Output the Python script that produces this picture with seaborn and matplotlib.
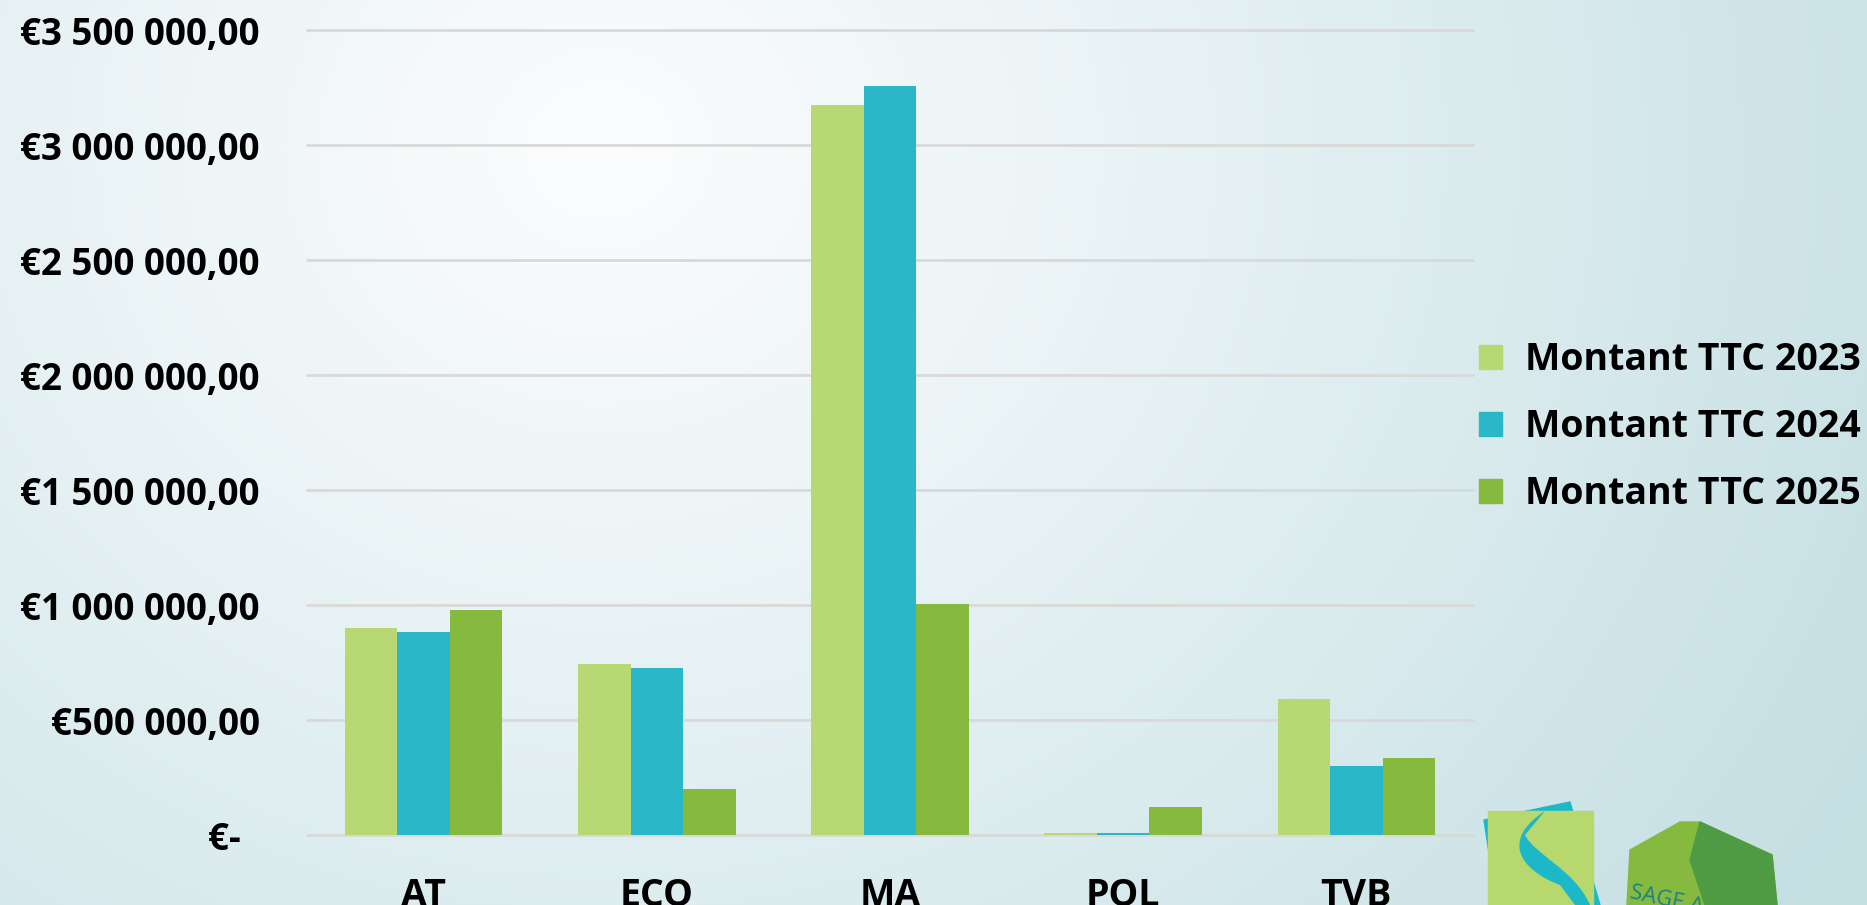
import numpy as np
import pandas as pd
import seaborn as sns
import matplotlib.pyplot as plt
from matplotlib.patches import Rectangle, Polygon, PathPatch
from matplotlib.path import Path

categories = ["AT", "ECO", "MA", "POL", "TVB"]
series = ["Montant TTC 2023", "Montant TTC 2024", "Montant TTC 2025"]
montant_2023 = [900000, 745000, 3175000, 10000, 590000]
montant_2024 = [881000, 726000, 3255000, 8000, 300000]
montant_2025 = [978000, 202000, 1005000, 120000, 336000]
y_ticks = [0, 500000, 1000000, 1500000, 2000000, 2500000, 3000000, 3500000]
y_labels = ["€-  ", "€500 000,00", "€1 000 000,00", "€1 500 000,00",
            "€2 000 000,00", "€2 500 000,00", "€3 000 000,00", "€3 500 000,00"]
colors = ["#b8d873", "#2ab7c7", "#86ba3f"]

df = pd.DataFrame({
    "cat": categories * 3,
    "serie": [s for s in series for _ in categories],
    "val": montant_2023 + montant_2024 + montant_2025,
})

sns.set_style("white")
plt.rcParams["font.family"] = ["Open Sans", "DejaVu Sans"]
plt.rcParams["text.color"] = "black"
plt.rcParams["xtick.color"] = "black"
plt.rcParams["ytick.color"] = "black"

W, H = 1867, 905
fig = plt.figure(figsize=(W / 100, H / 100), dpi=100)

# background gradient
bg = fig.add_axes([0, 0, 1, 1], zorder=-10)
yy, xx = np.mgrid[0:H, 0:W]
d = np.sqrt(((xx - 600) / 1.0) ** 2 + ((yy - 150) / 0.9) ** 2)
t = np.clip(d / 1450, 0, 1) ** 1.1
c0 = np.array([0.985, 0.99, 0.995])
c1 = np.array([0.77, 0.875, 0.89])
img = c0[None, None, :] * (1 - t[..., None]) + c1[None, None, :] * t[..., None]
bg.imshow(img, aspect="auto", extent=[0, W, H, 0])
bg.set_xlim(0, W)
bg.set_ylim(H, 0)
bg.axis("off")

# decorative logos bottom right
bg.add_patch(Polygon([[1484, 820], [1570, 802], [1600, 905], [1497, 905]],
                     closed=True, color="#1cb8c8", zorder=1))
bg.add_patch(Rectangle((1488, 811), 105, 94, color="#b6d86d", zorder=2))
s_path = Path([(1545, 811), (1500, 840), (1520, 870), (1560, 885), (1575, 905),
               (1590, 905), (1575, 870), (1535, 855), (1525, 835), (1565, 811)],
              [Path.MOVETO, Path.CURVE4, Path.CURVE4, Path.CURVE4, Path.LINETO,
               Path.LINETO, Path.CURVE4, Path.CURVE4, Path.CURVE4, Path.CLOSEPOLY])
bg.add_patch(PathPatch(s_path, facecolor="#1cb8c8", edgecolor="none", zorder=3))
bg.add_patch(Polygon([[1630, 850], [1680, 822], [1700, 822], [1772, 855], [1777, 905], [1627, 905]],
                     closed=True, color="#86ba3f", zorder=1))
bg.add_patch(Polygon([[1700, 822], [1772, 855], [1777, 905], [1705, 905], [1690, 860]],
                     closed=True, color="#4f9b43", zorder=2))
bg.text(1628, 900, "SAGE A", color="#1d7f8c", fontsize=16, rotation=-12,
        ha="left", va="center", zorder=4)

ax = fig.add_axes([307 / W, 1 - 835 / H, (1473 - 307) / W, (835 - 30) / H])
ax.set_facecolor("none")
sns.barplot(data=df, x="cat", y="val", hue="serie", palette=colors,
            saturation=1, width=0.675, linewidth=0, ax=ax, zorder=3)

ax.set_ylim(0, 3500000)
ax.set_xlim(-0.5, 4.5)
ax.set_yticks(y_ticks)
ax.set_yticklabels(y_labels)
ax.yaxis.grid(True, color="#d9d9d9", linewidth=2, zorder=0)
for gl in ax.get_ygridlines():
    gl.set_clip_on(False)
ax.set_axisbelow(True)
for sp in ax.spines.values():
    sp.set_visible(False)
ax.tick_params(axis="both", length=0)
ax.tick_params(axis="y", pad=34, labelsize=26.5)
ax.tick_params(axis="x", pad=30, labelsize=27)
for lab in ax.get_yticklabels() + ax.get_xticklabels():
    lab.set_fontweight("bold")
ax.set_xlabel("")
ax.set_ylabel("")

ax.get_legend().remove()
handles = [Rectangle((0, 0), 1, 1, color=c) for c in colors]
fig.legend(handles, series, loc="center left", bbox_to_anchor=(1445 / W, 1 - 427 / H),
           frameon=False, prop={"size": 27, "weight": "bold"},
           handlelength=0.61, handleheight=0.61, handletextpad=0.61, labelspacing=0.78)

fig.savefig("out.png", dpi=100)
